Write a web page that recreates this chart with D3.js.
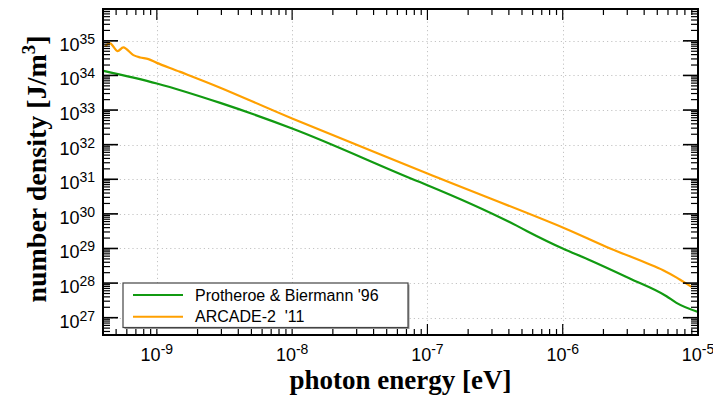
<!DOCTYPE html>
<html><head><meta charset="utf-8">
<script src="https://cdn.jsdelivr.net/npm/d3@7"></script>
<style>
html,body{margin:0;padding:0;background:#fff;}
svg{display:block;}
</style></head>
<body>
<svg id="chart" width="713" height="401"></svg>
<script>
// ---------- data ----------
const seriesNames = ["Protheroe & Biermann '96", "ARCADE-2  '11"];
const greenEnergy = [4.04e-10, 1e-9, 2.94e-9, 1e-8, 8.11e-8, 1e-7, 4.56e-7, 5.46e-7, 1e-6, 1.53e-6, 3.13e-6, 5.85e-6, 6.93e-6, 1e-5];
const greenDensity = [1.36e34, 5.87e33, 1.61e33, 2.94e32, 9.42e30, 6.75e30, 4.57e29, 3.16e29, 1.0e29, 4.91e28, 1.36e28, 4.18e27, 2.68e27, 1.47e27];
const orangeEnergy = [4.15e-10, 4.52e-10, 5.12e-10, 5.66e-10, 6.71e-10, 7.53e-10, 8.67e-10, 1e-9, 1.49e-9, 2.94e-9, 1e-8, 1e-7, 1e-6, 2.11e-6, 5.52e-6, 7.33e-6, 8.95e-6];
const orangeDensity = [7.03e34, 8.41e34, 5.04e34, 6.44e34, 3.86e34, 3.31e34, 2.96e34, 2.31e34, 1.27e34, 4.44e33, 5.71e32, 1.47e31, 4.05e29, 1.11e29, 2.36e28, 1.27e28, 7.76e27];
const xMajorExp = [-9, -8, -7, -6, -5];
const yMajorExp = [27, 28, 29, 30, 31, 32, 33, 34, 35];
const xLabel = "photon energy [eV]";

// ---------- layout ----------
const L = 103, R = 698, T = 9, B = 335;
const svg = d3.select("#chart");
const x = d3.scaleLog().domain([4.0e-10, 1e-5]).range([L, R]);
const y = d3.scaleLog().domain([Math.pow(10, 26.5), Math.pow(10, 35.92)]).range([B, T]);
const green = "#119a11", orange = "#ffa000";

// grid
const gridG = svg.append("g").attr("stroke", "#c4c4c4").attr("stroke-width", 1).attr("stroke-dasharray", "1.2,3");
xMajorExp.forEach(e => {
  const xx = Math.round(x(Math.pow(10, e))) + 0.5;
  gridG.append("line").attr("x1", xx).attr("x2", xx).attr("y1", T).attr("y2", B);
});
yMajorExp.forEach(e => {
  const yy = Math.round(y(Math.pow(10, e))) + 0.5;
  gridG.append("line").attr("x1", L).attr("x2", R).attr("y1", yy).attr("y2", yy);
});

// clip
svg.append("clipPath").attr("id", "clip").append("rect").attr("x", L).attr("y", T).attr("width", R - L).attr("height", B - T);

const lineO = d3.line().x(d => x(d[0])).y(d => y(d[1])).curve(d3.curveCatmullRom.alpha(0.5));
const lineG = d3.line().x(d => x(d[0])).y(d => y(d[1])).curve(d3.curveMonotoneX);
const gData = greenEnergy.map((e, i) => [e, greenDensity[i]]);
const oData = orangeEnergy.map((e, i) => [e, orangeDensity[i]]);
const plotG = svg.append("g").attr("clip-path", "url(#clip)");
plotG.append("path").attr("d", lineG(gData)).attr("fill", "none").attr("stroke", green).attr("stroke-width", 2.2).attr("stroke-linejoin", "round");
plotG.append("path").attr("d", lineO(oData)).attr("fill", "none").attr("stroke", orange).attr("stroke-width", 2.2).attr("stroke-linejoin", "round");

// ticks
const tickG = svg.append("g").attr("stroke", "#000").attr("stroke-width", 1.2);
const xMinor = [];
for (let e = -10; e <= -6; e++) for (let m = 2; m <= 9; m++) {
  const v = m * Math.pow(10, e);
  if (v >= 4.0e-10 && v < 1e-5) xMinor.push(v);
}
xMinor.forEach(v => {
  const xx = x(v);
  tickG.append("line").attr("x1", xx).attr("x2", xx).attr("y1", B).attr("y2", B - 6);
  tickG.append("line").attr("x1", xx).attr("x2", xx).attr("y1", T).attr("y2", T + 6);
});
xMajorExp.forEach(e => {
  const xx = x(Math.pow(10, e));
  tickG.append("line").attr("x1", xx).attr("x2", xx).attr("y1", B).attr("y2", B - 11);
  tickG.append("line").attr("x1", xx).attr("x2", xx).attr("y1", T).attr("y2", T + 11);
});
const yMinor = [];
for (let e = 26; e <= 35; e++) for (let m = 2; m <= 9; m++) {
  const v = m * Math.pow(10, e);
  if (v >= Math.pow(10, 26.5) && v <= Math.pow(10, 35.92)) yMinor.push(v);
}
yMinor.forEach(v => {
  const yy = y(v);
  tickG.append("line").attr("x1", L).attr("x2", L + 7).attr("y1", yy).attr("y2", yy);
  tickG.append("line").attr("x1", R).attr("x2", R - 7).attr("y1", yy).attr("y2", yy);
});
yMajorExp.forEach(e => {
  const yy = y(Math.pow(10, e));
  tickG.append("line").attr("x1", L).attr("x2", L + 15).attr("y1", yy).attr("y2", yy).attr("stroke-width", 1.6);
  tickG.append("line").attr("x1", R).attr("x2", R - 15).attr("y1", yy).attr("y2", yy).attr("stroke-width", 1.6);
});

// frame
svg.append("rect").attr("x", L).attr("y", T).attr("width", R - L).attr("height", B - T)
  .attr("fill", "none").attr("stroke", "#000").attr("stroke-width", 2);

// tick labels
const labFont = "'Liberation Sans', Arial, Helvetica, sans-serif";
yMajorExp.forEach(e => {
  const t = svg.append("text").attr("x", 95).attr("y", y(Math.pow(10, e)) + 10)
    .attr("text-anchor", "end").attr("font-family", labFont).attr("font-size", 18).attr("fill", "#000");
  t.append("tspan").text("10");
  t.append("tspan").attr("dy", -7).attr("font-size", 14).text(String(e));
});
xMajorExp.forEach(e => {
  const t = svg.append("text").attr("x", x(Math.pow(10, e))).attr("y", 361)
    .attr("text-anchor", "middle").attr("font-family", labFont).attr("font-size", 18).attr("fill", "#000");
  t.append("tspan").text("10");
  t.append("tspan").attr("dy", -7).attr("font-size", 14).text(String(e));
});

// axis titles
const titleFont = "'Liberation Serif', 'Times New Roman', Times, serif";
svg.append("text").attr("x", (L + R) / 2).attr("y", 389).attr("text-anchor", "middle")
  .attr("font-family", titleFont).attr("font-weight", "bold").attr("font-size", 27).text(xLabel);
const yt = svg.append("text").attr("transform", "translate(46," + 169 + ") rotate(-90)")
  .attr("text-anchor", "middle").attr("font-family", titleFont).attr("font-weight", "bold").attr("font-size", 28);
yt.append("tspan").text("number density [J/m");
yt.append("tspan").attr("dy", -11).attr("font-size", 19).text("3");
yt.append("tspan").attr("dy", 11).text("]");

// legend
const lg = svg.append("g");
lg.append("rect").attr("x", 124.5).attr("y", 284.5).attr("width", 285).attr("height", 44.5).attr("fill", "#999");
lg.append("rect").attr("x", 123).attr("y", 283).attr("width", 285).attr("height", 44.5)
  .attr("fill", "#fff").attr("stroke", "#444").attr("stroke-width", 1.2);
const legendColors = [green, orange];
const legendY = [295, 316.7];
seriesNames.forEach((n, i) => {
  lg.append("line").attr("x1", 133).attr("x2", 183).attr("y1", legendY[i]).attr("y2", legendY[i])
    .attr("stroke", legendColors[i]).attr("stroke-width", 2);
  lg.append("text").attr("x", 195).attr("y", legendY[i] + 5.5).attr("font-family", labFont)
    .attr("font-size", 16).attr("xml:space", "preserve").style("white-space", "pre").text(n);
});
</script>
</body></html>
